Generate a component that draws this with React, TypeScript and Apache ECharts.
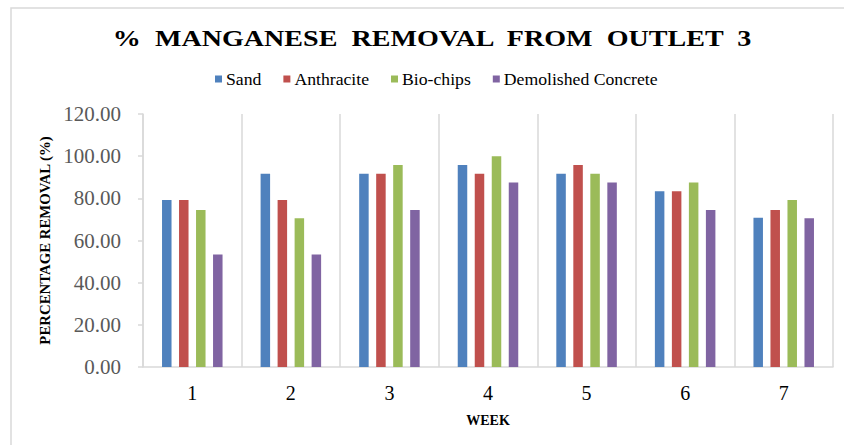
import React, { useEffect, useRef } from "react";
import * as echarts from "echarts";

const weeks = ["1", "2", "3", "4", "5", "6", "7"];
const seriesNames = ["Sand", "Anthracite", "Bio-chips", "Demolished Concrete"];
const sand = [79.17, 91.67, 91.67, 95.83, 91.67, 83.33, 70.83];
const anthracite = [79.17, 79.17, 91.67, 91.67, 95.83, 83.33, 74.5];
const bioChips = [74.5, 70.5, 95.83, 100, 91.67, 87.5, 79.17];
const demolished = [53.4, 53.4, 74.5, 87.5, 87.5, 74.5, 70.5];
const colors = ["#4F81BD", "#C0504D", "#9BBB59", "#8064A2"];
const titleText = "%  MANGANESE  REMOVAL  FROM  OUTLET  3";

const FONT = "Liberation Serif";

export default function App() {
  const ref = useRef<HTMLDivElement>(null);
  useEffect(() => {
    if (!ref.current) return;
    const chart = echarts.init(ref.current, undefined, { renderer: "svg" });
    const data = [sand, anthracite, bioChips, demolished];
    chart.setOption({
      animation: false,
      backgroundColor: "#ffffff",
      legend: {
        data: seriesNames,
        top: 65,
        left: 210,
        itemWidth: 7,
        itemHeight: 7,
        itemGap: 22,
        icon: "rect",
        textStyle: { fontFamily: FONT, fontSize: 17.7, color: "#000000", padding: [0, 0, 0, -1] },
      },
      graphic: [
        {
          type: "rect",
          shape: { x: 11, y: 8, width: 900, height: 500 },
          style: { fill: "none", stroke: "#d9d9d9", lineWidth: 1.5 },
          silent: true,
        },
        {
          type: "text",
          x: 432,
          y: 38,
          scaleX: 1.17,
          style: {
            text: titleText,
            fontFamily: FONT,
            fontSize: 24,
            fontWeight: "bold",
            fill: "#000000",
            textAlign: "center",
            textVerticalAlign: "middle",
          },
          silent: true,
        },
      ],
      grid: { left: 143, right: 11, top: 114, bottom: 78 },
      xAxis: {
        type: "category",
        data: weeks,
        name: "WEEK",
        nameLocation: "middle",
        nameGap: 46,
        nameTextStyle: { fontFamily: FONT, fontSize: 14, fontWeight: "bold", color: "#000000" },
        axisLine: { show: true, lineStyle: { color: "#d9d9d9", width: 1.5 } },
        axisTick: { show: false },
        axisLabel: { fontFamily: FONT, fontSize: 20, color: "#000000", margin: 16 },
        splitLine: { show: true, lineStyle: { color: "#d9d9d9", width: 1.5 } },
      },
      yAxis: {
        type: "value",
        min: 0,
        max: 120,
        interval: 20,
        name: "PERCENTAGE REMOVAL (%)",
        nameLocation: "middle",
        nameGap: 91,
        nameTextStyle: { fontFamily: FONT, fontSize: 14.8, fontWeight: "bold", color: "#000000" },
        axisLine: { show: true, lineStyle: { color: "#d9d9d9", width: 1.5 } },
        axisTick: { show: true, length: 5, lineStyle: { color: "#d9d9d9", width: 1.5 } },
        axisLabel: {
          fontFamily: FONT,
          fontSize: 21,
          color: "#595959",
          margin: 22,
          formatter: (v: number) => v.toFixed(2),
        },
        splitLine: { show: false },
      },
      series: seriesNames.map((name, i) => ({
        name,
        type: "bar",
        data: data[i],
        barWidth: 9.5,
        barGap: "79%",
        itemStyle: { color: colors[i] },
      })),
    });
    return () => chart.dispose();
  }, []);
  return (
    <div
      ref={ref}
      style={{ position: "fixed", left: 0, top: 0, width: 844, height: 445 }}
    />
  );
}
